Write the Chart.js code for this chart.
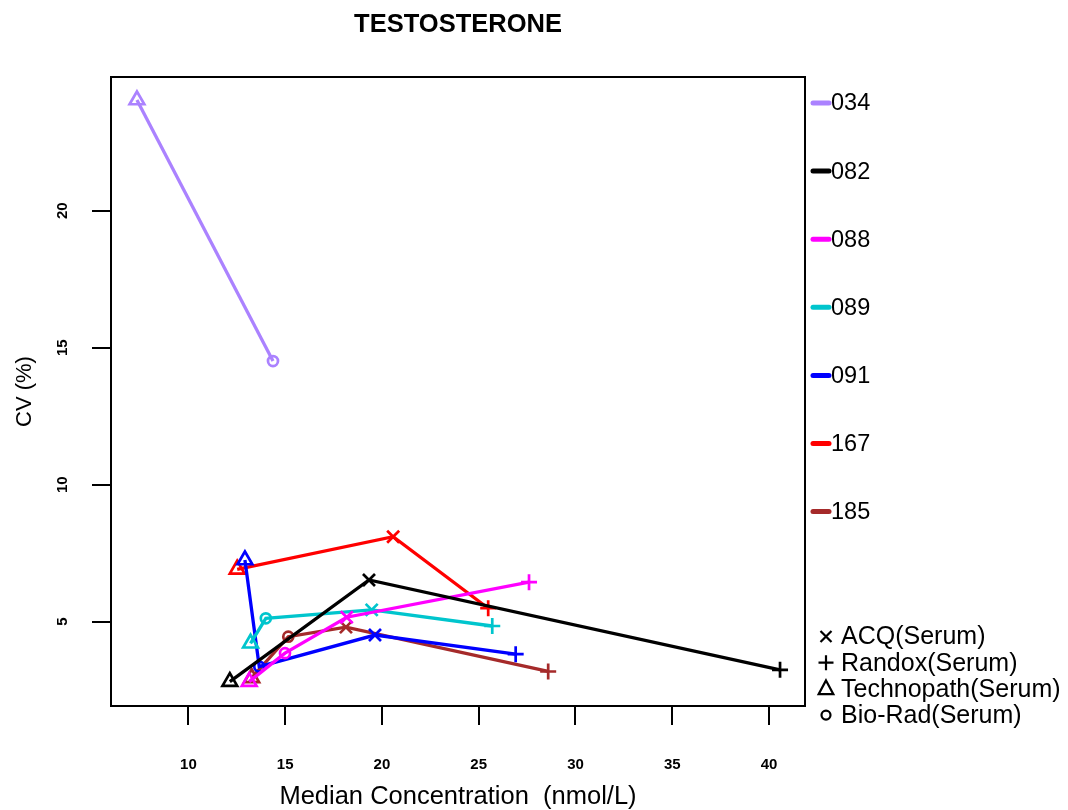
<!DOCTYPE html>
<html><head><meta charset="utf-8">
<script src="https://cdn.jsdelivr.net/npm/chart.js@4"></script>
<style>html,body{margin:0;padding:0;background:#fff}</style>
</head><body>
<canvas id="c" width="1068" height="810"></canvas>
<script>
// ---- data ----
const labs = ['034', '082', '088', '089', '091', '167', '185'];
const labColors = ['#AB82FF', '#000000', '#FF00FF', '#00C5CD', '#0000FF', '#FF0000', '#A52A2A'];
const methods = ['ACQ(Serum)', 'Randox(Serum)', 'Technopath(Serum)', 'Bio-Rad(Serum)'];
const methodStyles = ['crossRot', 'cross', 'triangle', 'circle'];

// median concentration (nmol/L) and CV (%) per lab, one array per method
const acqConc    = [null, 19.33, 18.18, 19.47, 19.64, 20.58, 18.14];
const acqCV      = [null,  6.52,  5.16,  5.43,  4.51,  8.10,  4.80];
const randoxConc = [null, 40.57, 27.60, 25.70, 26.91, 25.49, 28.59];
const randoxCV   = [null,  3.24,  6.44,  4.84,  3.81,  5.49,  3.18];
const technoConc = [7.34, 12.14, 13.14, 13.21, 12.92, 12.52, 13.27];
const technoCV   = [24.04, 2.81,  2.81,  4.21,  7.25,  6.91,  2.95];
const bioradConc = [14.37, null, 14.99, 14.00, 13.66, null, 15.16];
const bioradCV   = [14.51, null,  3.85,  5.12,  3.36, null,  4.45];

const xTicks = [10, 15, 20, 25, 30, 35, 40];
const yTicks = [5, 10, 15, 20];

const FONT = "'Liberation Sans', Arial, sans-serif";
const concByMethod = [acqConc, randoxConc, technoConc, bioradConc];
const cvByMethod = [acqCV, randoxCV, technoCV, bioradCV];
const markerRadius = [8.5, 8, 8.5, 5];

const datasets = labs.map((lab, i) => {
  const pts = [];
  methods.forEach((m, k) => {
    const x = concByMethod[k][i], y = cvByMethod[k][i];
    if (x != null && y != null) pts.push({ x: x, y: y, m: k });
  });
  pts.sort((a, b) => a.x - b.x);
  return {
    label: lab,
    data: pts,
    showLine: true,
    borderColor: labColors[i],
    backgroundColor: 'rgba(0,0,0,0)',
    borderWidth: 3.3,
    pointBorderColor: labColors[i],
    pointBackgroundColor: 'rgba(0,0,0,0)',
    pointBorderWidth: 2.7,
    pointStyle: ctx => (ctx.raw ? methodStyles[ctx.raw.m] : 'circle'),
    pointRadius: ctx => (ctx.raw ? markerRadius[ctx.raw.m] : 5),
    pointHoverRadius: ctx => (ctx.raw ? markerRadius[ctx.raw.m] : 5),
    clip: false
  };
});

function drawSymbol(ctx, style, x, y) {
  ctx.beginPath();
  if (style === 'crossRot') {
    const s = 5.5;
    ctx.moveTo(x - s, y - s); ctx.lineTo(x + s, y + s);
    ctx.moveTo(x - s, y + s); ctx.lineTo(x + s, y - s);
  } else if (style === 'cross') {
    const s = 7.5;
    ctx.moveTo(x - s, y); ctx.lineTo(x + s, y);
    ctx.moveTo(x, y - s); ctx.lineTo(x, y + s);
  } else if (style === 'triangle') {
    const r = 8.5;
    ctx.moveTo(x, y - r);
    ctx.lineTo(x + r * 0.866, y + r * 0.5 + 1);
    ctx.lineTo(x - r * 0.866, y + r * 0.5 + 1);
    ctx.closePath();
  } else {
    ctx.arc(x, y, 4.5, 0, Math.PI * 2);
  }
  ctx.stroke();
}

const boxAndLegend = {
  id: 'boxAndLegend',
  afterDraw(chart) {
    const ctx = chart.ctx;
    const a = chart.chartArea;
    ctx.save();
    ctx.strokeStyle = '#000';
    ctx.lineWidth = 2;
    ctx.strokeRect(a.left, a.top, a.right - a.left, a.bottom - a.top);

    // lab legend
    ctx.font = '23.5px ' + FONT;
    ctx.textBaseline = 'middle';
    ctx.textAlign = 'left';
    labs.forEach((lab, i) => {
      const y = 103 + i * 68.1;
      ctx.strokeStyle = labColors[i];
      ctx.lineWidth = 5;
      ctx.lineCap = 'round';
      ctx.beginPath();
      ctx.moveTo(813, y); ctx.lineTo(829, y);
      ctx.stroke();
      ctx.fillStyle = '#000';
      ctx.fillText(lab, 831, y + 1);
    });

    // method legend
    ctx.lineCap = 'butt';
    ctx.font = '25px ' + FONT;
    methods.forEach((m, k) => {
      const y = 636.5 + k * 26.2;
      ctx.strokeStyle = '#000';
      ctx.lineWidth = 2.2;
      drawSymbol(ctx, methodStyles[k], 826, y);
      ctx.fillStyle = '#000';
      ctx.fillText(m, 841, y + 1);
    });
    ctx.restore();
  }
};

new Chart(document.getElementById('c'), {
  type: 'scatter',
  data: { datasets: datasets },
  options: {
    responsive: false,
    animation: false,
    layout: { padding: { left: 0, top: 0, right: 263, bottom: 0 } },
    plugins: {
      legend: { display: false },
      tooltip: { enabled: false },
      title: {
        display: true,
        text: 'TESTOSTERONE',
        fullSize: false,
        color: '#000',
        font: { family: FONT, size: 25.5, weight: 'bold', lineHeight: 1.2 },
        padding: { top: 10, bottom: 36.4 }
      }
    },
    scales: {
      x: {
        type: 'linear',
        min: 6.0,
        max: 41.86,
        afterBuildTicks: s => { s.ticks = xTicks.map(v => ({ value: v })); },
        afterFit: s => { s.height = 104; },
        ticks: {
          color: '#000', font: { family: FONT, size: 15, weight: 'bold' },
          padding: 31, maxRotation: 0, minRotation: 0, autoSkip: false
        },
        grid: { display: true, drawOnChartArea: false, drawTicks: true, tickLength: 19, color: '#000', lineWidth: 2 },
        border: { display: false },
        title: {
          display: true, text: 'Median Concentration  (nmol/L)', color: '#000',
          font: { family: FONT, size: 25.5, lineHeight: 1.0 }, padding: { top: 0, bottom: 0 }
        }
      },
      y: {
        type: 'linear',
        min: 1.92,
        max: 24.88,
        afterBuildTicks: s => { s.ticks = yTicks.map(v => ({ value: v })); },
        afterFit: s => { s.width = 111; },
        ticks: {
          color: '#000', font: { family: FONT, size: 15, weight: 'bold' },
          padding: 21, minRotation: 90, maxRotation: 90, crossAlign: 'center', autoSkip: false
        },
        grid: { display: true, drawOnChartArea: false, drawTicks: true, tickLength: 19, color: '#000', lineWidth: 2 },
        border: { display: false },
        title: {
          display: true, text: 'CV (%)', color: '#000',
          font: { family: FONT, size: 22, lineHeight: 1.0 }, padding: { top: 14, bottom: 0 }
        }
      }
    }
  },
  plugins: [boxAndLegend]
});
</script>
</body></html>
